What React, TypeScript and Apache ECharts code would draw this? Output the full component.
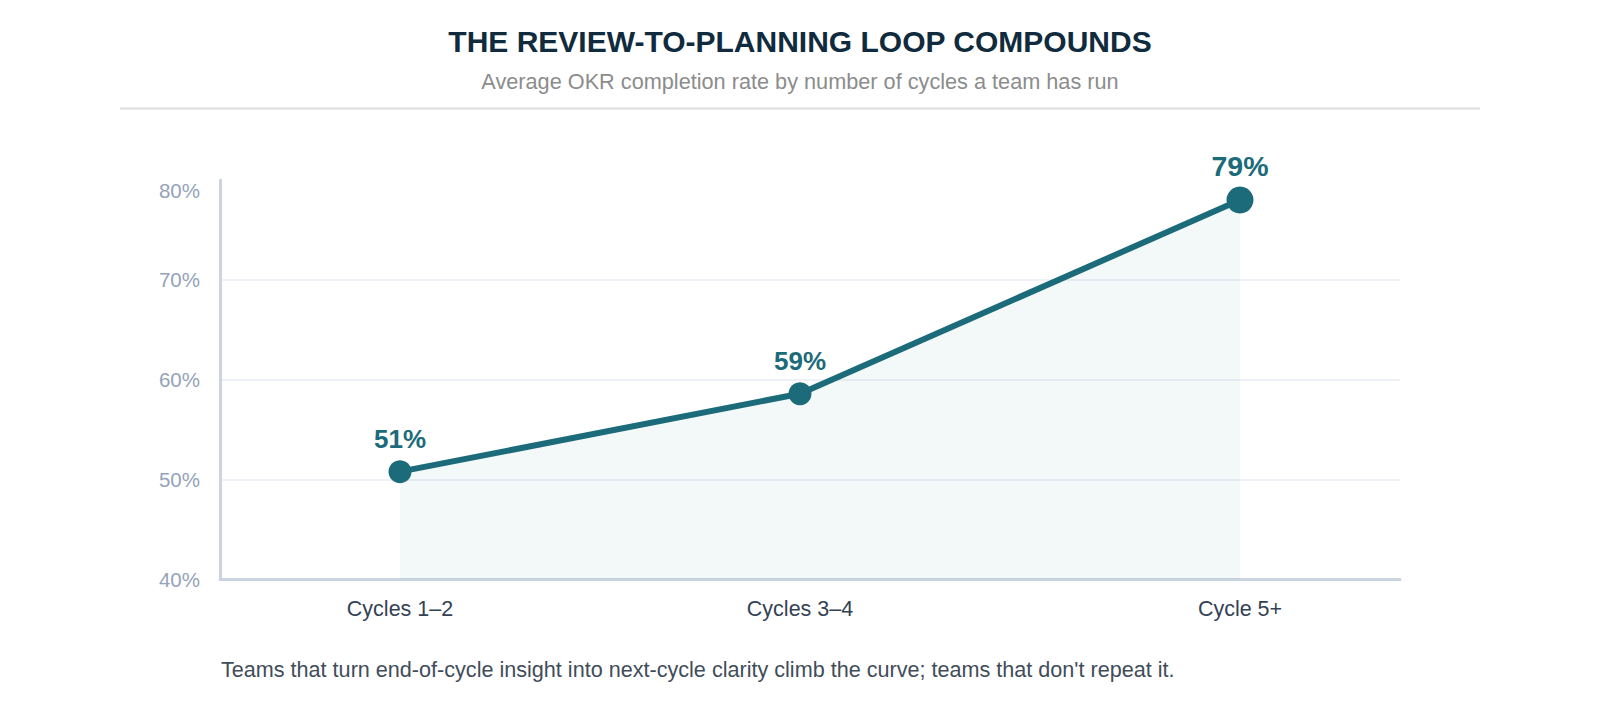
import React, { useEffect, useRef } from "react";
import * as echarts from "echarts";

const TITLE = "THE REVIEW-TO-PLANNING LOOP COMPOUNDS";
const SUBTITLE = "Average OKR completion rate by number of cycles a team has run";
const FOOTNOTE =
  "Teams that turn end-of-cycle insight into next-cycle clarity climb the curve; teams that don't repeat it.";

const categories = ["Cycles 1–2", "Cycles 3–4", "Cycle 5+"];
const xPositions = [1.5, 3.5, 5.7];
const completion = [50.8, 58.6, 78.0];
const valueLabels = ["51%", "59%", "79%"];
const yTicks = [40, 50, 60, 70, 80];

const TEAL = "#1c6b7a";
const FONT = "Liberation Sans, Arial, sans-serif";

export default function App() {
  const ref = useRef<HTMLDivElement>(null);

  useEffect(() => {
    document.body.style.margin = "0";
    if (!ref.current) return;
    const chart = echarts.init(ref.current, undefined, { renderer: "svg" });
    const last = completion.length - 1;

    chart.setOption({
      animation: false,
      backgroundColor: "#ffffff",
      textStyle: { fontFamily: FONT },
      title: [
        {
          text: TITLE,
          left: "center",
          top: 21,
          textStyle: { fontSize: 30, fontWeight: "bold", color: "#0f2b3d", fontFamily: FONT },
        },
        {
          text: SUBTITLE,
          left: "center",
          top: 65,
          textStyle: { fontSize: 21.7, fontWeight: "normal", color: "#8c8c8c", fontFamily: FONT },
        },
        {
          text: FOOTNOTE,
          left: 216,
          top: 653,
          textStyle: { fontSize: 21.6, fontWeight: "normal", color: "#3f4d5a", fontFamily: FONT },
        },
      ],
      graphic: [
        {
          type: "line",
          shape: { x1: 120, y1: 108.5, x2: 1480, y2: 108.5 },
          style: { stroke: "#dddddd", lineWidth: 2 },
        },
      ],
      grid: { left: 220, right: 200, top: 180, bottom: 140.5, containLabel: false },
      xAxis: {
        type: "value",
        min: 0.6,
        max: 6.5,
        axisLine: { show: true, lineStyle: { color: "#cbd5e1", width: 3 } },
        axisTick: { show: false },
        splitLine: { show: false },
        axisLabel: {
          customValues: xPositions,
          formatter: (v: number) => {
            const i = xPositions.findIndex((p) => Math.abs(p - v) < 1e-6);
            return i >= 0 ? categories[i] : "";
          },
          fontSize: 21.5,
          color: "#334155",
          margin: 18,
          fontFamily: FONT,
        },
      },
      yAxis: {
        type: "value",
        min: 40,
        max: 80,
        interval: 10,
        axisLine: { show: true, lineStyle: { color: "#cbd5e1", width: 3 } },
        axisTick: { show: false },
        splitLine: {
          show: true,
          showMinLine: false,
          showMaxLine: false,
          lineStyle: { color: "#eef2f6", width: 2 },
        },
        axisLabel: {
          customValues: yTicks,
          formatter: "{value}%",
          fontSize: 20.5,
          color: "#94a3b8",
          margin: 20,
          verticalAlignMaxLabel: "top",
          fontFamily: FONT,
        },
      },
      series: [
        {
          type: "line",
          data: xPositions.map((x, i) => ({
            value: [x, completion[i]],
            symbolSize: i === last ? 27 : 23,
            label: {
              fontSize: i === last ? 28.5 : 26,
              distance: i === last ? 6 : 8,
            },
          })),
          symbol: "circle",
          lineStyle: { color: TEAL, width: 6 },
          itemStyle: { color: TEAL },
          areaStyle: { color: "rgba(28,112,122,0.075)", origin: "start" },
          label: {
            show: true,
            position: "top",
            formatter: (p: any) => valueLabels[p.dataIndex],
            color: TEAL,
            fontWeight: "bold",
            fontFamily: FONT,
          },
          z: 3,
        },
      ],
    });

    return () => chart.dispose();
  }, []);

  return <div ref={ref} style={{ width: 1600, height: 720 }} />;
}
